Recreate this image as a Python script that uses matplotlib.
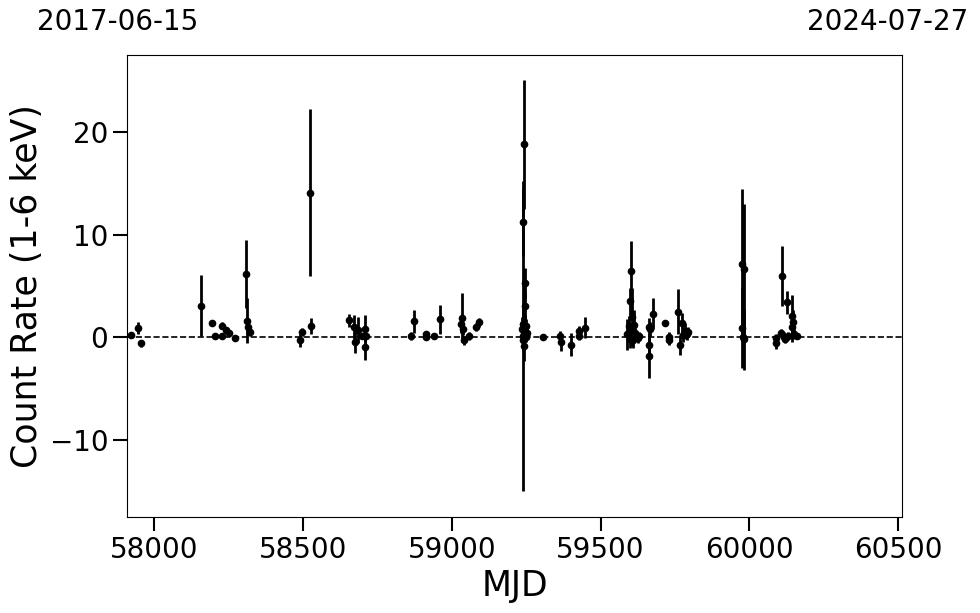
import matplotlib
matplotlib.use("Agg")
import matplotlib.pyplot as plt

# light curve points (MJD, count rate, 1-sigma error)
mjd = [57922, 57947, 57956,
       58158, 58196, 58205, 58227, 58229, 58241, 58252, 58273,
       58310, 58312, 58317, 58323,
       58490, 58497, 58525, 58527,
       58655, 58672, 58675, 58684, 58698, 58709, 58709, 58711,
       58863, 58874, 58913, 58915, 58942, 58959,
       59031, 59035, 59039, 59040, 59059, 59082, 59091,
       59236, 59238, 59239, 59240, 59241, 59242, 59243, 59243, 59244,
       59245, 59246, 59247, 59247, 59248, 59250, 59252,
       59308, 59365, 59366, 59401, 59428, 59429, 59449,
       59590, 59595, 59598, 59600, 59602, 59604, 59606, 59608, 59610,
       59612, 59615, 59620, 59625, 59630,
       59662, 59664, 59664, 59665, 59675,
       59718, 59731, 59731, 59761, 59767, 59774, 59778, 59785, 59790, 59795,
       59975, 59977, 59979, 59982, 59983,
       60090, 60091, 60107, 60111, 60115, 60120, 60125, 60130, 60142,
       60145, 60148, 60150, 60161]
rate = [0.2, 0.9, -0.6,
        3.1, 1.35, 0.1, 1.15, 0.1, 0.7, 0.4, -0.1,
        6.2, 1.6, 1.0, 0.5,
        -0.3, 0.5, 14.1, 1.1,
        1.65, 1.0, -0.5, 0.7, 0.1, 0.85, -0.9, 0.1,
        0.15, 1.55, 0.35, 0.05, 0.15, 1.75,
        1.25, 1.9, 0.8, -0.3, 0.1, 1.0, 1.45,
        0.8, -0.3, 11.2, 1.3, 0.1, 0.5, 18.8, -0.8, 0.2,
        1.0, 0.3, 5.3, 3.1, 0.0, 1.1, 0.4,
        0.05, 0.1, -0.5, -0.7, 0.6, 0.15, 0.95,
        0.3, 1.1, -0.2, 3.5, 0.6, 6.5, 2.0, 0.1, -0.3,
        1.2, 0.4, 0.2, -0.1, 0.1,
        -1.85, 1.05, -0.7, 0.8, 2.3,
        1.35, 0.0, -0.3, 2.5, -0.75, 1.35, 0.2, 0.6, 0.3, 0.5,
        7.1, 0.9, 0.0, 6.7, -0.2,
        -0.05, -0.6, 0.4, 5.95, 0.0, -0.2, 3.4, 0.1, 2.1,
        1.0, 1.45, 0.3, 0.15]
err = [0.2, 0.6, 0.3,
       3.0, 0.2, 0.3, 0.3, 0.3, 0.3, 0.3, 0.2,
       3.3, 2.2, 0.6, 0.4,
       0.6, 0.4, 8.15, 0.8,
       0.6, 1.2, 1.0, 1.3, 0.3, 1.3, 1.3, 0.3,
       0.4, 1.1, 0.3, 0.2, 0.2, 1.4,
       0.8, 2.4, 0.6, 0.4, 0.4, 0.4, 0.4,
       1.2, 1.0, 3.3, 1.5, 15.1, 0.8, 6.3, 1.5, 1.0,
       1.2, 0.8, 1.5, 1.3, 0.5, 0.7, 0.5,
       0.2, 0.5, 0.8, 1.1, 0.5, 0.4, 1.0,
       1.5, 1.0, 0.8, 1.3, 0.7, 2.9, 2.8, 0.6, 0.7,
       1.5, 0.5, 0.4, 0.5, 0.4,
       2.1, 0.8, 1.0, 0.7, 1.5,
       0.2, 0.5, 0.4, 2.2, 1.0, 1.0, 0.7, 0.8, 0.6, 0.5,
       7.3, 3.9, 0.5, 6.3, 3.0,
       0.4, 0.5, 0.4, 2.9, 0.5, 0.4, 1.1, 0.4, 2.0,
       1.5, 1.2, 0.5, 0.3]

date_start = "2017-06-15"
date_end = "2024-07-27"

fig = plt.figure(figsize=(9.8, 6.13), dpi=100)
ax = fig.add_axes([0.1296, 0.1566, 0.7908, 0.7537])

ax.errorbar(mjd, rate, yerr=err, fmt='o', color='k', ms=4.5,
            elinewidth=2, capsize=0)
ax.axhline(0, ls='--', color='k', lw=1.2)

ax.set_xlim(57909, 60513)
ax.set_ylim(-17.5, 27.5)
ax.set_xticks([58000, 58500, 59000, 59500, 60000, 60500])
ax.set_yticks([-10, 0, 10, 20])
ax.tick_params(axis='both', which='major', labelsize=20, length=10, width=1.5)
ax.set_xlabel('MJD', fontsize=25)
ax.set_ylabel('Count Rate (1-6 keV)', fontsize=25)

fig.text(118 / 980, 0.964, date_start, fontsize=20, ha='center', va='center')
fig.text(888 / 980, 0.964, date_end, fontsize=20, ha='center', va='center')

fig.savefig('out.png', dpi=100)
